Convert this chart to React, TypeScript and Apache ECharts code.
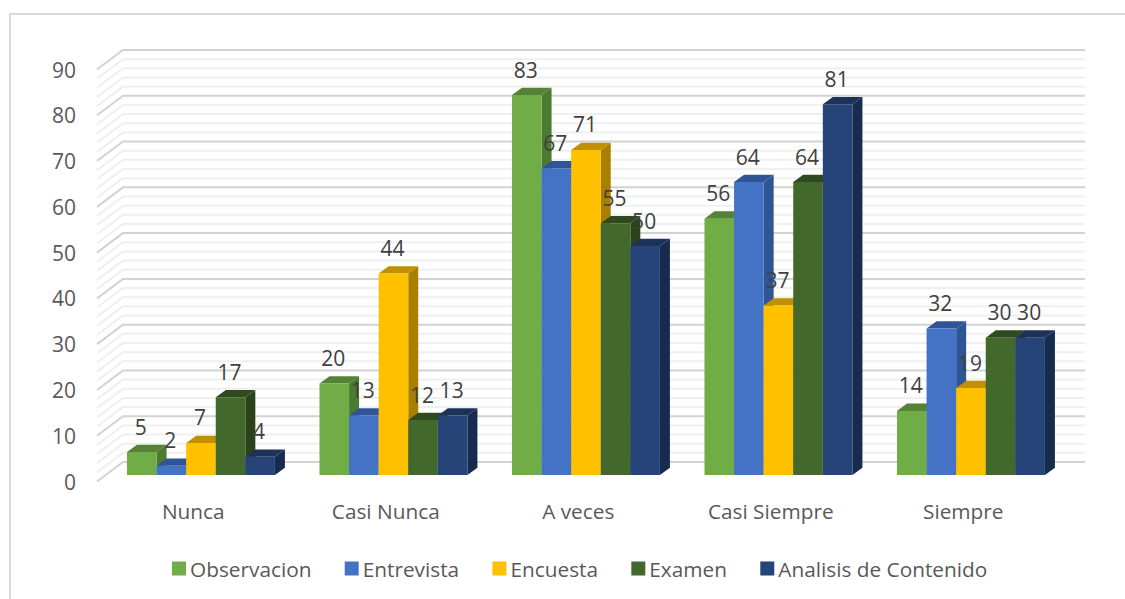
import React, { useEffect, useRef } from "react";
import * as echarts from "echarts";

const categories = ["Nunca", "Casi Nunca", "A veces", "Casi Siempre", "Siempre"];
const observacion = [5, 20, 83, 56, 14];
const entrevista = [2, 13, 67, 64, 32];
const encuesta = [7, 44, 71, 37, 19];
const examen = [17, 12, 55, 64, 30];
const analisis = [4, 13, 50, 81, 30];
const gridValues = [0, 2, 4, 6, 8, 10, 12, 14, 16, 18, 20, 22, 24, 26, 28, 30, 32, 34, 36, 38, 40, 42, 44, 46, 48, 50, 52, 54, 56, 58, 60, 62, 64, 66, 68, 70, 72, 74, 76, 78, 80, 82, 84, 86, 88, 90];

const seriesDefs = [
  { name: "Observacion", values: observacion, front: "#70AD47", top: "#558235", side: "#4B7A30" },
  { name: "Entrevista", values: entrevista, front: "#4472C4", top: "#2F5597", side: "#2F5597" },
  { name: "Encuesta", values: encuesta, front: "#FFC000", top: "#BF9000", side: "#A97F00" },
  { name: "Examen", values: examen, front: "#43682B", top: "#2F4A1E", side: "#2B421B" },
  { name: "Analisis de Contenido", values: analisis, front: "#264478", top: "#1C3258", side: "#172B4E" },
];

const FONT = "'Open Sans', sans-serif";
const TEXT = "#595959";
// Depth of the chart walls and placement of the bars inside it.
const WALL_DX = 26;
const WALL_DY = 19.5;
const BAR_SHIFT_X = 7.7;
const BAR_SHIFT_Y = 6.5;
const DEPTH_X = 10;
const DEPTH_Y = 7.3;
const BAR_RATIO = 0.1537;

function App() {
  const ref = useRef<HTMLDivElement>(null);
  useEffect(() => {
    const chart = echarts.init(ref.current!, null, { renderer: "svg" });
    const barRender = (idx: number, def: any) => (_p: any, api: any) => {
      const c = api.coord([api.value(0), api.value(1)]);
      const base = api.coord([api.value(0), 0]);
      const w = api.size([1, 0])[0] * BAR_RATIO;
      const x0 = c[0] + BAR_SHIFT_X + (idx - 2.5) * w;
      const x1 = x0 + w;
      const yT = c[1] - BAR_SHIFT_Y;
      const yB = base[1] - BAR_SHIFT_Y;
      return {
        type: "group",
        children: [
          { type: "polygon", shape: { points: [[x1, yT], [x1 + DEPTH_X, yT - DEPTH_Y], [x1 + DEPTH_X, yB - DEPTH_Y], [x1, yB]] }, style: { fill: def.side } },
          { type: "polygon", shape: { points: [[x0, yT], [x0 + DEPTH_X, yT - DEPTH_Y], [x1 + DEPTH_X, yT - DEPTH_Y], [x1, yT]] }, style: { fill: def.top } },
          { type: "rect", shape: { x: x0, y: yT, width: w, height: yB - yT }, style: { fill: def.front } },
        ],
      };
    };
    const labelRender = (idx: number) => (_p: any, api: any) => {
      const v = api.value(1);
      const c = api.coord([api.value(0), v]);
      const w = api.size([1, 0])[0] * BAR_RATIO;
      return {
        type: "text",
        x: c[0] + BAR_SHIFT_X - 1 + (idx - 2) * w,
        y: c[1] - BAR_SHIFT_Y - 25.5,
        style: { text: String(v), fill: "#404040", font: `21px ${FONT}`, align: "center", verticalAlign: "middle" },
      };
    };
    const option: any = {
      animation: false,
      backgroundColor: "#fff",
      graphic: [
        { type: "rect", shape: { x: 10, y: 14, width: 1130, height: 600 }, style: { fill: "none", stroke: "#D9D9D9", lineWidth: 2 }, silent: true },
      ],
      grid: { left: 97, width: 962.5, top: 69.5, height: 412 },
      xAxis: {
        type: "category",
        data: categories,
        axisLine: { show: false },
        axisTick: { show: false },
        axisLabel: { color: TEXT, fontFamily: FONT, fontSize: 20.8, margin: 19 },
      },
      yAxis: {
        type: "value",
        min: 0,
        max: 90,
        interval: 10,
        axisLine: { show: false },
        axisTick: { show: false },
        splitLine: { show: false },
        axisLabel: { color: TEXT, fontFamily: FONT, fontSize: 21, margin: 21 },
      },
      legend: {
        left: 167,
        top: 553,
        itemWidth: 14,
        itemHeight: 14,
        itemGap: 33.3,
        icon: "rect",
        textStyle: { color: TEXT, fontFamily: FONT, fontSize: 20.8, padding: [0, 0, 0, -1] },
        data: seriesDefs.map((d) => d.name),
      },
      series: [
        {
          type: "custom",
          name: "grid",
          silent: true,
          z: 1,
          data: gridValues.map((v) => [v]),
          encode: { y: 0 },
          renderItem: (_p: any, api: any) => {
            const v = api.value(0);
            const p = api.coord([0, v]);
            const x0 = api.coord([0, v])[0] - api.size([1, 0])[0] / 2;
            const major = v % 10 === 0;
            return {
              type: "polyline",
              shape: { points: [[x0, p[1]], [x0 + WALL_DX, p[1] - WALL_DY], [x0 + 988, p[1] - WALL_DY]] },
              style: { fill: "none", stroke: major ? "#D2D2D2" : "#EFEFEF", lineWidth: 2 },
            };
          },
        },
        ...seriesDefs.map((d, i) => ({
          type: "custom",
          name: d.name,
          z: 2,
          itemStyle: { color: d.front },
          data: d.values.map((v, k) => [k, v]),
          encode: { x: 0, y: 1 },
          renderItem: barRender(i, d),
        })),
        ...seriesDefs.map((d, i) => ({
          type: "custom",
          name: d.name,
          z: 3,
          itemStyle: { color: d.front },
          data: d.values.map((v, k) => [k, v]),
          encode: { x: 0, y: 1 },
          renderItem: labelRender(i),
        })),
      ],
    };
    chart.setOption(option);
    return () => chart.dispose();
  }, []);
  return <div ref={ref} style={{ position: "fixed", left: 0, top: 0, width: 1125, height: 599 }} />;
}

export default App;
